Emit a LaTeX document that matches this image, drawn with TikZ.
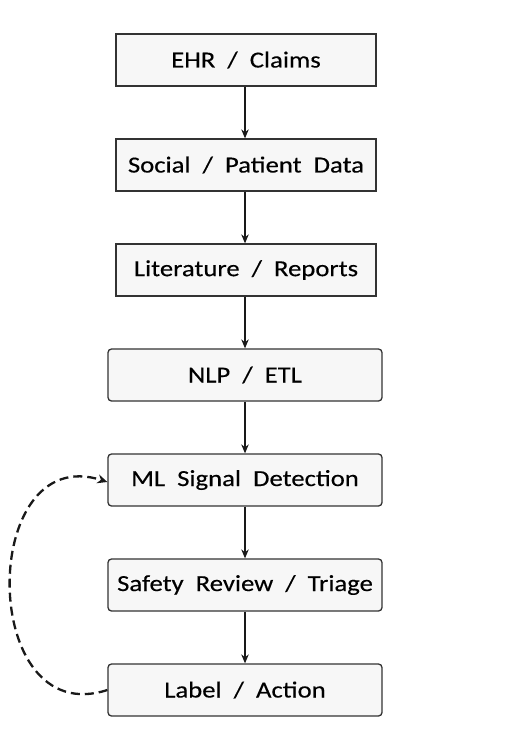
\documentclass[tikz,border=0pt]{standalone}
\usepackage{fontspec}
\setmainfont{Carlito}[FakeStretch=1.16,FakeBold=0.3]
\usetikzlibrary{arrows.meta}
\definecolor{boxfill}{HTML}{F7F7F7}
\definecolor{boxline}{HTML}{333333}
\tikzset{
  box/.style={draw=boxline, fill=boxfill, line width=1.3pt, minimum height=52pt,
    inner sep=0pt, font=\fontsize{23}{26}\selectfont, text=black},
  sqbox/.style={box, minimum width=260pt},
  rdbox/.style={box, minimum width=274pt, rounded corners=3.5pt},
  flow/.style={draw=black!90, line width=1.2pt, -{Stealth[length=9pt,width=7.5pt]}},
  loop/.style={draw=black!90, line width=2.3pt, dash pattern=on 9pt off 5pt, -{Stealth[length=10pt,width=9pt]}}
}
\begin{document}
\begin{tikzpicture}[x=1pt,y=-1pt]
\useasboundingbox (0,0) rectangle (504,731);
\node[sqbox] (a) at (246,60) {EHR\ \ /\ \ Claims};
\node[sqbox] (b) at (246,165) {Social\ \ /\ \ Patient\ \ Data};
\node[sqbox] (c) at (246,270) {Literature\ \ /\ \ Reports};
\node[rdbox] (d) at (245,375) {NLP\ \ /\ \ ETL};
\node[rdbox] (e) at (245,480) {ML\ \ Signal\ \ Detection};
\node[rdbox] (f) at (245,585) {Safety\ \ Review\ \ /\ \ Triage};
\node[rdbox] (g) at (245,690) {Label\ \ /\ \ Action};
\draw[flow] (a.south -| 245,0) -- (b.north -| 245,0);
\draw[flow] (b.south -| 245,0) -- (c.north -| 245,0);
\draw[flow] (c.south -| 245,0) -- (d.north);
\draw[flow] (d) -- (e);
\draw[flow] (e) -- (f);
\draw[flow] (f) -- (g);
\draw[loop] (g.west) .. controls (-22,732) and (-22,440) .. ([yshift=-2pt]e.west);
\end{tikzpicture}
\end{document}
